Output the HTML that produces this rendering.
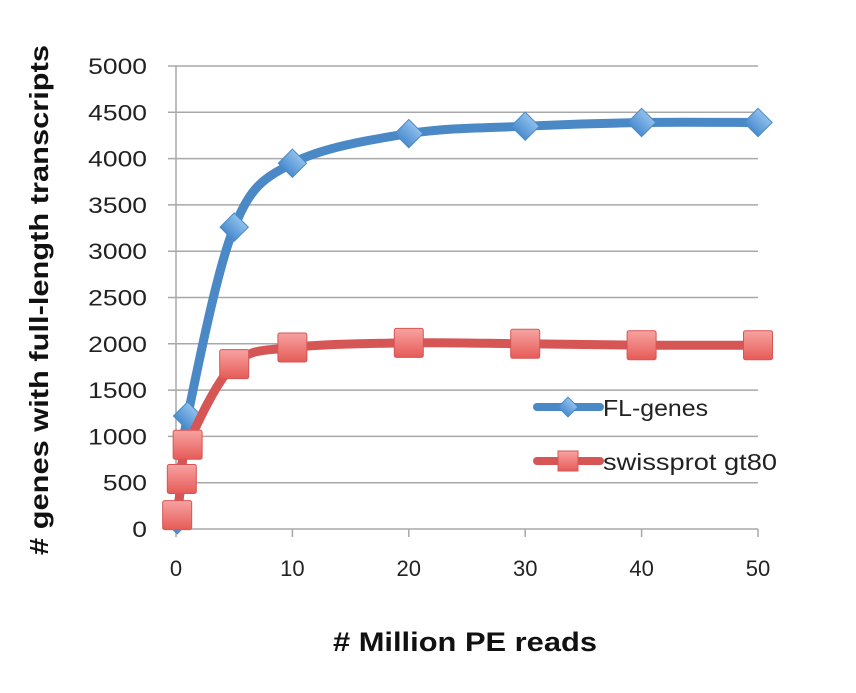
<!DOCTYPE html>
<html><head><meta charset="utf-8"><style>
body{margin:0;background:#fff;}
svg text{font-family:"Liberation Sans",sans-serif;}
</style></head><body>
<svg id="chart" width="856" height="688" viewBox="0 0 856 688">
<defs>
<linearGradient id="rg" x1="0" y1="0" x2="0" y2="1"><stop offset="0" stop-color="#f7a3a1"/><stop offset="1" stop-color="#e65b57"/></linearGradient>
<linearGradient id="bg" x1="0" y1="0" x2="0" y2="1"><stop offset="0" stop-color="#8fc0ec"/><stop offset="1" stop-color="#4a8cd0"/></linearGradient>
</defs>
<g id="grid"></g>
<g id="series"></g>
<text x="48" y="300" transform="rotate(-90 48 300)" text-anchor="middle" font-size="26" font-weight="bold" fill="#111" textLength="510" lengthAdjust="spacingAndGlyphs"># genes with full-length transcripts</text>
<text x="465" y="651" text-anchor="middle" font-size="27" font-weight="bold" fill="#111" textLength="264" lengthAdjust="spacingAndGlyphs"># Million PE reads</text>
<g>
<g>
<line x1="537" y1="407" x2="600" y2="407" stroke="#4a89c5" stroke-width="8" stroke-linecap="round"/>
<rect x="561" y="400" width="14" height="14" transform="rotate(45 568 407)" fill="url(#bg)" stroke="#4a89c5"/>
<text x="603" y="416" font-size="23" fill="#222" textLength="105" lengthAdjust="spacingAndGlyphs">FL-genes</text></g>
<g>
<line x1="537" y1="461" x2="600" y2="461" stroke="#d65656" stroke-width="8" stroke-linecap="round"/>
<rect x="558" y="451" width="20" height="20" fill="url(#rg)" stroke="#d65656"/>
<text x="603" y="470" font-size="23" fill="#222" textLength="174" lengthAdjust="spacingAndGlyphs">swissprot gt80</text></g>
</g>
</svg>
<script>
const xTicks=[0,10,20,30,40,50];
const yTicks=[0,500,1000,1500,2000,2500,3000,3500,4000,4500,5000];
const flX=[0.1,0.5,1,5,10,20,30,40,50];
const flY=[100,600,1220,3260,3950,4270,4350,4390,4390];
const spX=[0.1,0.5,1,5,10,20,30,40,50];
const spY=[150,540,910,1780,1960,2010,2000,1985,1985];
const NS="http://www.w3.org/2000/svg";
const X=v=>176+v*(758-176)/50;
const Y=v=>529-v*(463/5000);
function mk(t,a,p){const e=document.createElementNS(NS,t);for(const k in a)e.setAttribute(k,a[k]);p.appendChild(e);return e;}
const g=document.getElementById('grid');
yTicks.forEach(v=>{
 const l=mk('line',{x1:168,x2:758,y1:Y(v),y2:Y(v),stroke:'#a8a8a8','stroke-width':1.5},g);
 
 
 const s=String(v);
 const t=mk('text',{x:147,y:Y(v)+8,'text-anchor':'end','font-size':22,fill:'#222',textLength:s.length*14.7,lengthAdjust:'spacingAndGlyphs'},g);t.textContent=v;
 
 
});
const ax=mk('line',{x1:176,x2:176,y1:Y(5000),y2:Y(0)+1,stroke:'#a8a8a8','stroke-width':1.5},g);


xTicks.forEach(v=>{
 mk('line',{x1:X(v),x2:X(v),y1:Y(0),y2:Y(0)+8,stroke:'#a8a8a8','stroke-width':1.5},g);
 const t=mk('text',{x:X(v),y:Y(0)+47,'text-anchor':'middle','font-size':22,fill:'#222'},g);t.textContent=v;
 
 
});
function path(xs,ys){
 const p=xs.map((x,i)=>[X(x),Y(ys[i])]);let d='M'+p[0][0]+','+p[0][1];
 for(let i=0;i<p.length-1;i++){const p0=p[i-1]||p[i],p1=p[i],p2=p[i+1],p3=p[i+2]||p2;
  const c1=[p1[0]+(p2[0]-p0[0])/6,p1[1]+(p2[1]-p0[1])/6],c2=[p2[0]-(p3[0]-p1[0])/6,p2[1]-(p3[1]-p1[1])/6];
  d+=`C${c1[0]},${c1[1]} ${c2[0]},${c2[1]} ${p2[0]},${p2[1]}`;}
 return d;}
const s=document.getElementById('series');
const bl=mk('path',{d:path(flX,flY),fill:'none',stroke:'#4a89c5','stroke-width':9,'stroke-linejoin':'round'},s);


flX.forEach((x,i)=>{const cx=X(x),cy=Y(flY[i]);
 const m=mk('rect',{x:cx-10,y:cy-10,width:20,height:20,transform:`rotate(45 ${cx} ${cy})`,fill:'url(#bg)',stroke:'#4a89c5'},s);
 
 });
const rl=mk('path',{d:path(spX,spY),fill:'none',stroke:'#d65656','stroke-width':9,'stroke-linejoin':'round'},s);


spX.forEach((x,i)=>{const cx=X(x),cy=Y(spY[i]);
 const m=mk('rect',{x:cx-14.5,y:cy-14.5,width:29,height:29,rx:2,fill:'url(#rg)',stroke:'#d65656'},s);
 
 });
</script>
</body></html>
